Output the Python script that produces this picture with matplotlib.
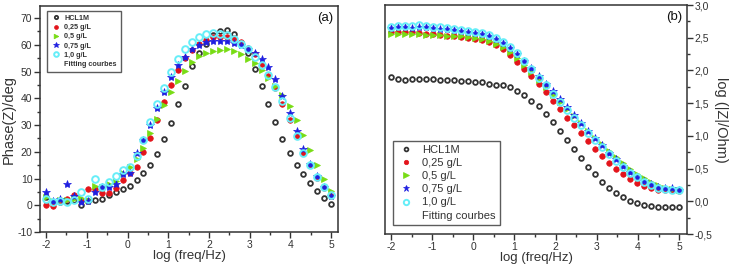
import matplotlib
matplotlib.use("Agg")
import matplotlib.pyplot as plt
from matplotlib.lines import Line2D
from matplotlib.ticker import MultipleLocator, FuncFormatter

plt.rcParams['font.family'] = ['Liberation Sans', 'DejaVu Sans']

# log(freq/Hz) grid, same for every series
logf = [-2.00, -1.83, -1.66, -1.49, -1.32, -1.15, -0.98, -0.80, -0.63, -0.46,
        -0.29, -0.12, 0.05, 0.22, 0.39, 0.56, 0.73, 0.90, 1.07, 1.24,
        1.41, 1.59, 1.76, 1.93, 2.10, 2.27, 2.44, 2.61, 2.78, 2.95,
        3.12, 3.29, 3.46, 3.63, 3.80, 3.98, 4.15, 4.32, 4.49, 4.66,
        4.83, 5.00]

labels = ["HCL1M", "0,25 g/L", "0,5 g/L", "0,75 g/L", "1,0 g/L"]

# (a) phase angle, deg
phase_hcl = [3.2, 1.4, 1.1, 1.6, 1.9, 0.2, 1.7, 2.0, 2.4, 4.0,
             5.0, 6.0, 7.3, 9.5, 12.0, 15.2, 19.2, 24.9, 30.6, 37.8,
             44.8, 52.0, 56.8, 60.5, 63.5, 65.3, 65.6, 64.1, 60.6, 56.8,
             50.9, 44.5, 38.0, 31.1, 24.7, 19.5, 15.0, 11.6, 8.3, 5.5,
             2.9, 0.6]
phase_025 = [0.3, -0.2, 2.0, 2.5, 4.0, 2.0, 6.2, 6.0, 4.5, 4.6,
             6.5, 9.5, 12.0, 14.5, 19.8, 25.0, 32.0, 38.7, 45.0, 50.5,
             55.0, 58.0, 60.5, 62.0, 62.8, 63.0, 62.8, 62.5, 61.0, 59.0,
             56.5, 53.0, 48.5, 43.8, 38.0, 32.0, 25.8, 19.5, 15.0, 10.3,
             6.3, 3.3]
phase_05 = [3.2, 1.5, 2.0, 2.0, 2.2, 2.8, 1.8, 7.2, 7.0, 8.0,
            9.0, 12.0, 14.3, 17.2, 21.5, 27.2, 32.2, 37.4, 42.3, 46.6,
            50.3, 53.5, 55.8, 56.8, 57.7, 58.2, 58.3, 57.8, 56.6, 54.8,
            53.2, 50.5, 47.6, 44.6, 41.2, 37.2, 32.0, 26.4, 20.6, 15.0,
            9.9, 5.4]
phase_075 = [4.8, 1.7, 2.3, 7.8, 3.5, 1.2, 1.5, 4.8, 7.0, 7.0,
             7.8, 11.6, 12.0, 19.5, 24.5, 30.0, 36.5, 42.5, 48.0, 52.4,
             55.6, 58.3, 60.0, 61.0, 61.5, 61.5, 61.3, 60.6, 59.8, 58.5,
             57.0, 54.7, 51.6, 47.1, 40.9, 34.6, 27.8, 21.2, 15.4, 10.8,
             7.0, 3.6]
phase_10 = [2.5, 1.2, 1.6, 1.2, 2.0, 4.9, 2.5, 9.9, 7.0, 8.8,
            11.0, 13.2, 14.5, 18.6, 24.5, 31.3, 37.8, 43.9, 49.9, 54.6,
            58.4, 61.0, 63.1, 64.1, 64.6, 64.0, 63.5, 62.1, 60.3, 58.3,
            55.6, 52.3, 48.7, 44.3, 38.9, 32.6, 26.1, 19.4, 15.1, 10.7,
            6.9, 3.8]

# (b) log(|Z|/Ohm)
modz_hcl = [1.90, 1.87, 1.86, 1.87, 1.87, 1.87, 1.87, 1.86, 1.86, 1.85,
            1.84, 1.84, 1.83, 1.82, 1.80, 1.78, 1.77, 1.74, 1.69, 1.63,
            1.54, 1.45, 1.33, 1.21, 1.08, 0.94, 0.80, 0.66, 0.53, 0.41,
            0.29, 0.20, 0.12, 0.06, 0.01, -0.03, -0.05, -0.07, -0.08, -0.09,
            -0.09, -0.09]
modz_025 = [2.58, 2.59, 2.58, 2.58, 2.57, 2.56, 2.55, 2.54, 2.53, 2.52,
            2.51, 2.50, 2.48, 2.46, 2.43, 2.39, 2.33, 2.24, 2.13, 2.02,
            1.91, 1.79, 1.67, 1.54, 1.41, 1.28, 1.16, 1.04, 0.92, 0.80,
            0.69, 0.58, 0.50, 0.42, 0.34, 0.28, 0.23, 0.20, 0.18, 0.17,
            0.17, 0.16]
modz_05 = [2.56, 2.56, 2.55, 2.55, 2.55, 2.54, 2.54, 2.54, 2.53, 2.53,
           2.52, 2.51, 2.50, 2.48, 2.45, 2.41, 2.36, 2.28, 2.19, 2.08,
           1.97, 1.86, 1.75, 1.63, 1.52, 1.41, 1.30, 1.19, 1.08, 0.97,
           0.87, 0.77, 0.67, 0.58, 0.50, 0.42, 0.35, 0.30, 0.25, 0.21,
           0.19, 0.17]
modz_075 = [2.65, 2.67, 2.66, 2.65, 2.66, 2.66, 2.65, 2.64, 2.63, 2.62,
            2.61, 2.59, 2.57, 2.55, 2.52, 2.48, 2.42, 2.34, 2.25, 2.14,
            2.03, 1.91, 1.80, 1.68, 1.56, 1.44, 1.32, 1.20, 1.08, 0.97,
            0.86, 0.74, 0.64, 0.54, 0.45, 0.37, 0.31, 0.26, 0.22, 0.20,
            0.20, 0.18]
modz_10 = [2.66, 2.68, 2.68, 2.68, 2.69, 2.68, 2.67, 2.66, 2.65, 2.64,
           2.62, 2.61, 2.59, 2.57, 2.54, 2.50, 2.44, 2.36, 2.26, 2.14,
           2.02, 1.89, 1.77, 1.64, 1.52, 1.40, 1.28, 1.16, 1.05, 0.94,
           0.83, 0.72, 0.62, 0.53, 0.44, 0.37, 0.30, 0.25, 0.21, 0.19,
           0.18, 0.17]

styles = [
    dict(marker='o', mfc='none', mec='#333333', mew=1.3, ms=3.4),
    dict(marker='o', mfc='#e3141b', mec='#e3141b', mew=0.5, ms=4.0),
    dict(marker='>', mfc='#78dc14', mec='#78dc14', mew=0.5, ms=4.8),
    dict(marker='*', mfc='#1f1fe0', mec='#1f1fe0', mew=0.5, ms=6.0),
    dict(marker='o', mfc='none', mec='#66eef8', mew=1.4, ms=4.8),
]

grey = '#333333'

fig = plt.figure(figsize=(7.33, 2.64), dpi=100)
ax1 = fig.add_axes([0.0546, 0.121, 0.4066, 0.856])
ax2 = fig.add_axes([0.5252, 0.1136, 0.4120, 0.8674])

for ys, st, lb in zip([phase_hcl, phase_025, phase_05, phase_075, phase_10], styles, labels):
    ax1.plot(logf, ys, ls='none', label=lb, **st)
for ys, st, lb in zip([modz_hcl, modz_025, modz_05, modz_075, modz_10], styles, labels):
    ax2.plot(logf, ys, ls='none', label=lb, **st)

blank = Line2D([], [], ls='none', marker='none', label='Fitting courbes')

ax1.set_xlim(-2.15, 5.17)
ax1.set_ylim(-10, 74.5)
ax1.xaxis.set_major_locator(MultipleLocator(1))
ax1.xaxis.set_minor_locator(MultipleLocator(0.5))
ax1.yaxis.set_major_locator(MultipleLocator(10))
ax1.yaxis.set_minor_locator(MultipleLocator(5))
ax1.xaxis.set_major_formatter(FuncFormatter(lambda v, p: '%d' % v))
ax1.yaxis.set_major_formatter(FuncFormatter(lambda v, p: '%d' % v))
ax1.set_ylabel('Phase(Z)/deg', fontsize=10.5, color=grey, labelpad=1)
ax1.set_xlabel('log (freq/Hz)', fontsize=9.5, color=grey, labelpad=0)
ax1.text(0.985, 0.975, '(a)', transform=ax1.transAxes, ha='right', va='top',
         fontsize=9.5, color='#111111')

ax2.set_xlim(-2.146, 5.19)
ax2.set_ylim(-0.5, 3.0)
ax2.xaxis.set_major_locator(MultipleLocator(1))
ax2.xaxis.set_minor_locator(MultipleLocator(0.5))
ax2.yaxis.set_major_locator(MultipleLocator(0.5))
ax2.yaxis.set_minor_locator(MultipleLocator(0.25))
ax2.xaxis.set_major_formatter(FuncFormatter(lambda v, p: '%d' % v))
ax2.yaxis.set_major_formatter(FuncFormatter(lambda v, p: ('%.1f' % v).replace('.', ',')))
ax2.yaxis.tick_right()
ax2.yaxis.set_label_position('right')
ax2.set_ylabel('log (|Z|/Ohm)', fontsize=10.5, color=grey, rotation=270, labelpad=11)
ax2.set_xlabel('log (freq/Hz)', fontsize=9.5, color=grey, labelpad=0)
ax2.text(0.985, 0.975, '(b)', transform=ax2.transAxes, ha='right', va='top',
         fontsize=9.5, color='#111111')

for ax in (ax1, ax2):
    for s in ax.spines.values():
        s.set_color(grey)
        s.set_linewidth(1.1)
    ax.tick_params(which='major', direction='out', length=4, width=1, color=grey,
                   labelsize=7.5, labelcolor=grey, pad=1.5)
    ax.tick_params(which='minor', direction='out', length=2.5, width=1, color=grey)

h1, l1 = ax1.get_legend_handles_labels()
leg1 = ax1.legend(h1 + [blank], l1 + ['Fitting courbes'], loc='upper left',
                  bbox_to_anchor=(0.012, 0.995), fontsize=5.2, frameon=True,
                  fancybox=False, edgecolor=grey, handlelength=1.2,
                  handletextpad=0.6, labelspacing=0.3, borderpad=0.55,
                  markerscale=0.7)
leg1.get_frame().set_linewidth(1.0)
for t in leg1.get_texts():
    t.set_color(grey)
    t.set_fontweight('bold')

h2, l2 = ax2.get_legend_handles_labels()
leg2 = ax2.legend(h2 + [blank], l2 + ['Fitting courbes'], loc='lower left',
                  bbox_to_anchor=(0.008, 0.015), fontsize=8, frameon=True,
                  fancybox=False, edgecolor=grey, handlelength=1.6,
                  handletextpad=0.6, labelspacing=0.28, borderpad=0.4,
                  markerscale=0.8)
leg2.get_frame().set_linewidth(1.0)
for t in leg2.get_texts():
    t.set_color(grey)

fig.savefig('out.png', dpi=100)
